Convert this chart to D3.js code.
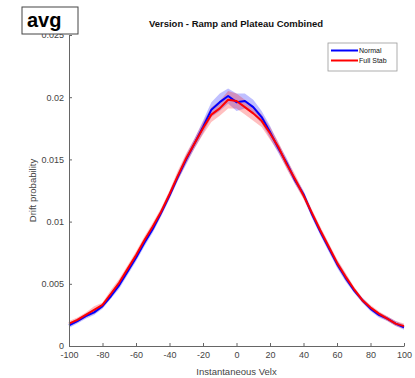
<!DOCTYPE html>
<html>
<head>
<meta charset="utf-8">
<script src="https://cdn.jsdelivr.net/npm/d3@7"></script>
<style>
  body { margin: 0; background: #fff; }
  text { font-family: "Liberation Sans", Arial, sans-serif; }
</style>
</head>
<body>
<div id="main"></div>
<script>
// velocity bins (x axis)
var velx = d3.range(-100, 101, 5);

// mean drift probability
var normal_mean = [0.00165, 0.0020, 0.0024, 0.0027, 0.0032, 0.0040, 0.0049, 0.0060, 0.0071, 0.0083,
                   0.0094, 0.0107, 0.0121, 0.0136, 0.0150, 0.0163, 0.0176, 0.0190, 0.0196, 0.0201,
                   0.0196, 0.0197, 0.0192, 0.0184, 0.0172, 0.0159, 0.0147, 0.0133, 0.0122, 0.0106,
                   0.0092, 0.0079, 0.0066, 0.0055, 0.0045, 0.0037, 0.0030, 0.0025, 0.0022, 0.0018, 0.0015];
var fullstab_mean = [0.0018, 0.0021, 0.0025, 0.0029, 0.0033, 0.0042, 0.0051, 0.0062, 0.0073, 0.0085,
                     0.0096, 0.0108, 0.0122, 0.0137, 0.0151, 0.0163, 0.0175, 0.0186, 0.0191, 0.0198,
                     0.0197, 0.0192, 0.0187, 0.0181, 0.0171, 0.0160, 0.0146, 0.0134, 0.0121, 0.0107,
                     0.0093, 0.0080, 0.0067, 0.0056, 0.0046, 0.0037, 0.0031, 0.0026, 0.0022, 0.0018, 0.0016];
// half width of the shaded error band
var normal_err = [0.0002, 0.0002, 0.0002, 0.0002, 0.0002, 0.0002, 0.0003, 0.0003, 0.0003, 0.0003,
                  0.0003, 0.0003, 0.0003, 0.0003, 0.0004, 0.0004, 0.0005, 0.0006, 0.0007, 0.0006,
                  0.0007, 0.0006, 0.0006, 0.0005, 0.0005, 0.0004, 0.0004, 0.0003, 0.0003, 0.0003,
                  0.0003, 0.0003, 0.0003, 0.0003, 0.0002, 0.0002, 0.0002, 0.0002, 0.0002, 0.0002, 0.0002];
var fullstab_err = [0.0002, 0.0002, 0.0002, 0.0003, 0.0002, 0.0003, 0.0003, 0.0003, 0.0003, 0.0003,
                    0.0003, 0.0003, 0.0003, 0.0004, 0.0004, 0.0004, 0.0005, 0.0006, 0.0006, 0.0007,
                    0.0006, 0.0006, 0.0006, 0.0005, 0.0005, 0.0004, 0.0004, 0.0004, 0.0003, 0.0003,
                    0.0003, 0.0003, 0.0003, 0.0003, 0.0002, 0.0002, 0.0002, 0.0002, 0.0002, 0.0002, 0.0002];

var x_ticks = d3.range(-100, 101, 20);
var y_ticks = [0, 0.005, 0.01, 0.015, 0.02, 0.025];

var series = [
  { name: "Normal", mean: normal_mean, err: normal_err, color: "#0000ff", band: "rgba(0,0,255,0.25)" },
  { name: "Full Stab", mean: fullstab_mean, err: fullstab_err, color: "#ff0000", band: "rgba(255,0,0,0.25)" }
];

var width = 415, height = 378;
var m = { left: 69, right: 11, top: 35, bottom: 32 };

var svg = d3.select("#main").append("svg")
  .attr("width", width).attr("height", height);

var x = d3.scaleLinear().domain([-100, 100]).range([m.left, width - m.right]);
var y = d3.scaleLinear().domain([0, 0.025]).range([height - m.bottom, m.top]);

var axis_col = "#666";

// bands then lines
series.forEach(function(s) {
  var pts = velx.map(function(v, i) { return { v: v, mu: s.mean[i], e: s.err[i] }; });
  svg.append("path").datum(pts)
    .attr("fill", s.band)
    .attr("d", d3.area()
      .x(function(d) { return x(d.v); })
      .y0(function(d) { return y(d.mu - d.e); })
      .y1(function(d) { return y(d.mu + d.e); }));
});
series.forEach(function(s) {
  var pts = velx.map(function(v, i) { return { v: v, mu: s.mean[i] }; });
  svg.append("path").datum(pts)
    .attr("fill", "none")
    .attr("stroke", s.color)
    .attr("stroke-width", 2)
    .attr("stroke-linejoin", "round")
    .attr("d", d3.line().x(function(d) { return x(d.v); }).y(function(d) { return y(d.mu); }));
});

// axes, ticks inward like matlab
var xa = svg.append("g").attr("transform", "translate(0," + y(0) + ")")
  .call(d3.axisBottom(x).tickValues(x_ticks).tickSizeInner(-3).tickSizeOuter(0).tickPadding(6)
    .tickFormat(function(d) { return String(d); }));
var ya = svg.append("g").attr("transform", "translate(" + x(-100) + ",0)")
  .call(d3.axisLeft(y).tickValues(y_ticks).tickSizeInner(-3).tickSizeOuter(0).tickPadding(5)
    .tickFormat(function(d) { return d === 0 ? "0" : String(+d.toFixed(3)); }));
[xa, ya].forEach(function(a) {
  a.selectAll("path, line").attr("stroke", axis_col);
  a.selectAll("text").attr("fill", "#444").style("font-size", "9px")
    .style("font-family", "'Liberation Sans', Arial, sans-serif");
});

svg.append("text").attr("x", (m.left + width - m.right) / 2).attr("y", 375)
  .attr("text-anchor", "middle").attr("fill", "#444").style("font-size", "9.5px")
  .text("Instantaneous Velx");
svg.append("text").attr("transform", "translate(36," + (y(0.0125)) + ") rotate(-90)")
  .attr("text-anchor", "middle").attr("fill", "#444").style("font-size", "9.5px")
  .text("Drift probability");

svg.append("text").attr("x", 236).attr("y", 27).attr("text-anchor", "middle")
  .style("font-size", "9.5px").style("font-weight", "bold").attr("fill", "#111")
  .text("Version - Ramp and Plateau Combined");

// legend
var lg = svg.append("g").attr("transform", "translate(328,43)");
lg.append("rect").attr("width", 69).attr("height", 28)
  .attr("fill", "#fff").attr("stroke", "#999").attr("stroke-width", 0.8);
series.forEach(function(s, i) {
  var ly = 7.5 + i * 10;
  lg.append("line").attr("x1", 3).attr("x2", 30).attr("y1", ly).attr("y2", ly)
    .attr("stroke", s.color).attr("stroke-width", 2);
  lg.append("text").attr("x", 31).attr("y", ly + 2.5).style("font-size", "7px")
    .attr("fill", "#111").text(s.name);
});

// "avg" label box sits over the top tick label
svg.append("rect").attr("x", 22).attr("y", 7).attr("width", 56).attr("height", 27)
  .attr("fill", "#fff").attr("stroke", "#444").attr("stroke-width", 1);
svg.append("text").attr("x", 27).attr("y", 27).style("font-size", "20px")
  .style("font-weight", "bold").attr("fill", "#000").text("avg");
</script>
</body>
</html>
